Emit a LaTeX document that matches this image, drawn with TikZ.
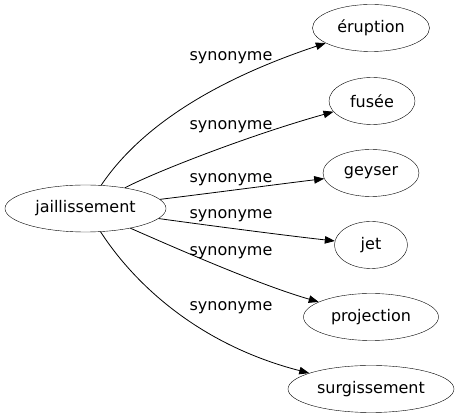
\documentclass[tikz,border=0pt]{standalone}
\usepackage{fontspec}
\setmainfont{DejaVu Sans}
\usetikzlibrary{shapes.geometric,arrows.meta}
\tikzset{
  term/.style={draw,ellipse,inner sep=0pt,font=\fontsize{16}{19}\selectfont},
  lbl/.style={inner sep=0pt,font=\fontsize{16}{19}\selectfont},
  syn/.style={draw,line width=0.8pt,-{Triangle[length=10pt,width=7.5pt]}}
}
\begin{document}
\begin{tikzpicture}[x=1pt,y=-1pt]
\useasboundingbox (0,0) rectangle (459,419);
\node[term,minimum width=161pt,minimum height=47pt] (src) at (85.5,208.5) {jaillissement};
\node[term,minimum width=117pt,minimum height=47pt] (eru) at (371,28) {éruption};
\node[term,minimum width=86pt,minimum height=47pt] (fus) at (372,101) {fusée};
\node[term,minimum width=96pt,minimum height=47pt] (gey) at (371,173) {geyser};
\node[term,minimum width=73pt,minimum height=47pt] (jet) at (371,245) {jet};
\node[term,minimum width=135pt,minimum height=47pt] (pro) at (371,317) {projection};
\node[term,minimum width=166pt,minimum height=47pt] (sur) at (371,389) {surgissement};
\node[lbl] (l1) at (231,58) {synonyme};
\node[lbl] (l2) at (231,127) {synonyme};
\node[lbl] (l3) at (231,180) {synonyme};
\node[lbl] (l4) at (231,216) {synonyme};
\node[lbl] (l5) at (231,253) {synonyme};
\node[lbl] (l6) at (231,308) {synonyme};
\draw[syn] (src) .. controls (135,135) and (200,85) .. (eru);
\draw[syn] (src) .. controls (155,172) and (250,135) .. (fus);
\draw[syn] (src) .. controls (220,192) and (280,184) .. (gey);
\draw[syn] (src) .. controls (220,227) and (290,236) .. (jet);
\draw[syn] (src) .. controls (180,250) and (260,285) .. (pro);
\draw[syn] (src) .. controls (135,285) and (200,345) .. (sur);
\end{tikzpicture}
\end{document}
